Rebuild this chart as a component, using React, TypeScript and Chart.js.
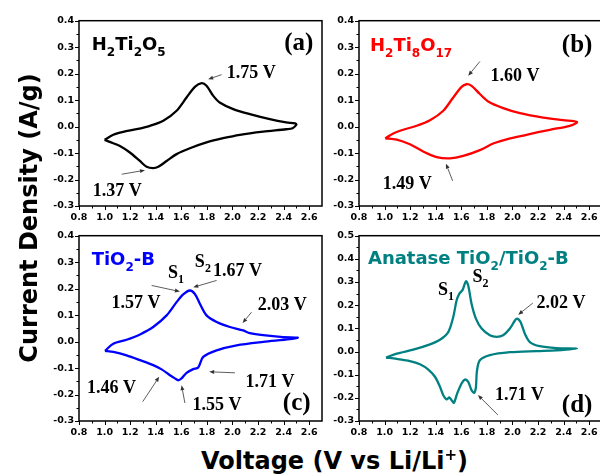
import React, { useEffect, useRef } from 'react';
import { Chart, registerables } from 'chart.js';
Chart.register(...registerables);

// ---------- data (Voltage in V, Current density in A/g) ----------
// (a) H2Ti2O5
const aVoltage = [1.0, 1.068, 1.146, 1.25, 1.355, 1.459, 1.563, 1.641, 1.706, 1.759, 1.797, 1.85, 1.9, 2.006, 2.136, 2.292, 2.42, 2.49, 2.5, 2.47, 2.42, 2.24, 2.058, 1.927, 1.797, 1.667, 1.563, 1.485, 1.42, 1.38, 1.329, 1.276, 1.198, 1.12, 1.04, 1.0];
const aCurrent = [-0.05, -0.031, -0.02, -0.01, 0.003, 0.022, 0.06, 0.11, 0.15, 0.164, 0.154, 0.116, 0.091, 0.066, 0.047, 0.028, 0.016, 0.012, 0.008, -0.006, -0.01, -0.019, -0.031, -0.044, -0.06, -0.082, -0.104, -0.13, -0.152, -0.157, -0.152, -0.13, -0.098, -0.073, -0.058, -0.05];

// (b) H2Ti8O17
const bVoltage = [1.005, 1.068, 1.146, 1.25, 1.355, 1.459, 1.537, 1.602, 1.641, 1.68, 1.745, 1.81, 1.927, 2.058, 2.24, 2.396, 2.505, 2.448, 2.292, 2.109, 1.954, 1.849, 1.745, 1.615, 1.511, 1.407, 1.302, 1.198, 1.095, 1.005];
const bCurrent = [-0.044, -0.026, -0.012, 0.003, 0.024, 0.06, 0.11, 0.15, 0.16, 0.154, 0.123, 0.095, 0.07, 0.051, 0.034, 0.024, 0.017, 0.003, -0.012, -0.031, -0.048, -0.064, -0.089, -0.111, -0.12, -0.115, -0.094, -0.067, -0.049, -0.044];

// (c) TiO2-B
const cVoltage = [1.003, 1.068, 1.172, 1.277, 1.38, 1.485, 1.563, 1.615, 1.667, 1.706, 1.745, 1.797, 1.876, 1.98, 2.084, 2.136, 2.24, 2.396, 2.51, 2.448, 2.24, 2.032, 1.876, 1.771, 1.732, 1.693, 1.641, 1.602, 1.576, 1.55, 1.511, 1.446, 1.38, 1.277, 1.172, 1.068, 1.003];
const cCurrent = [-0.035, -0.008, 0.007, 0.027, 0.055, 0.099, 0.149, 0.178, 0.193, 0.18, 0.143, 0.099, 0.074, 0.055, 0.042, 0.032, 0.024, 0.017, 0.015, 0.009, -0.001, -0.014, -0.033, -0.058, -0.098, -0.104, -0.118, -0.139, -0.146, -0.139, -0.127, -0.105, -0.089, -0.07, -0.052, -0.039, -0.035];

// (d) Anatase TiO2/TiO2-B
const dVoltage = [1.011, 1.095, 1.224, 1.355, 1.433, 1.498, 1.537, 1.563, 1.584, 1.61, 1.636, 1.654, 1.68, 1.714, 1.759, 1.823, 1.876, 1.927, 1.98, 2.019, 2.037, 2.063, 2.097, 2.136, 2.214, 2.344, 2.505, 2.344, 2.188, 1.98, 1.823, 1.745, 1.722, 1.714, 1.701, 1.68, 1.654, 1.628, 1.602, 1.568, 1.542, 1.524, 1.506, 1.485, 1.459, 1.433, 1.394, 1.342, 1.277, 1.198, 1.095, 1.011];
const dCurrent = [-0.026, -0.009, 0.008, 0.031, 0.051, 0.084, 0.149, 0.22, 0.249, 0.266, 0.303, 0.285, 0.206, 0.142, 0.099, 0.07, 0.063, 0.07, 0.099, 0.134, 0.142, 0.127, 0.077, 0.041, 0.023, 0.015, 0.013, 0.005, 0.002, -0.003, -0.016, -0.038, -0.085, -0.155, -0.178, -0.167, -0.131, -0.121, -0.138, -0.181, -0.221, -0.21, -0.198, -0.207, -0.189, -0.152, -0.109, -0.078, -0.055, -0.041, -0.032, -0.026];

// ---------- tick labels ----------
const xTicks = [0.8, 1.0, 1.2, 1.4, 1.6, 1.8, 2.0, 2.2, 2.4, 2.6];
const yTicksABC = [-0.3, -0.2, -0.1, 0.0, 0.1, 0.2, 0.3, 0.4];
const yTicksD = [-0.3, -0.2, -0.1, 0.0, 0.1, 0.2, 0.3, 0.4, 0.5];

type Label = { x: number; y: number; text: string; kind: 'formula' | 'value' | 's' | 'letter' };
type Arrow = { x1: number; y1: number; x2: number; y2: number };

const aLabels: Label[] = [
  { x: 0.9, y: 0.288, text: 'H{2}Ti{2}O{5}', kind: 'formula' },
  { x: 2.405, y: 0.288, text: '(a)', kind: 'letter' },
  { x: 1.956, y: 0.184, text: '1.75 V', kind: 'value' },
  { x: 0.907, y: -0.262, text: '1.37 V', kind: 'value' },
];
const aArrows: Arrow[] = [
  { x1: 1.915, y1: 0.196, x2: 1.81, y2: 0.179 },
  { x1: 1.134, y1: -0.18, x2: 1.316, y2: -0.165 },
];
const bLabels: Label[] = [
  { x: 0.886, y: 0.286, text: 'H{2}Ti{8}O{17}', kind: 'formula' },
  { x: 2.386, y: 0.283, text: '(b)', kind: 'letter' },
  { x: 1.829, y: 0.173, text: '1.60 V', kind: 'value' },
  { x: 0.985, y: -0.236, text: '1.49 V', kind: 'value' },
];
const bArrows: Arrow[] = [
  { x1: 1.745, y1: 0.246, x2: 1.654, y2: 0.192 },
  { x1: 1.532, y1: -0.205, x2: 1.48, y2: -0.14 },
];
const cLabels: Label[] = [
  { x: 0.899, y: 0.291, text: 'TiO{2}-B', kind: 'formula' },
  { x: 1.495, y: 0.242, text: 'S{1}', kind: 's' },
  { x: 1.706, y: 0.281, text: 'S{2}', kind: 's' },
  { x: 1.847, y: 0.249, text: '1.67 V', kind: 'value' },
  { x: 1.055, y: 0.125, text: '1.57 V', kind: 'value' },
  { x: 2.198, y: 0.118, text: '2.03 V', kind: 'value' },
  { x: 0.862, y: -0.195, text: '1.46 V', kind: 'value' },
  { x: 1.688, y: -0.259, text: '1.55 V', kind: 'value' },
  { x: 2.102, y: -0.171, text: '1.71 V', kind: 'value' },
  { x: 2.394, y: -0.259, text: '(c)', kind: 'letter' },
];
const cArrows: Arrow[] = [
  { x1: 1.368, y1: 0.212, x2: 1.589, y2: 0.189 },
  { x1: 1.876, y1: 0.231, x2: 1.693, y2: 0.205 },
  { x1: 2.149, y1: 0.111, x2: 2.079, y2: 0.07 },
  { x1: 1.298, y1: -0.227, x2: 1.427, y2: -0.133 },
  { x1: 1.628, y1: -0.232, x2: 1.602, y2: -0.165 },
  { x1: 2.019, y1: -0.118, x2: 1.818, y2: -0.114 },
];
const dLabels: Label[] = [
  { x: 0.87, y: 0.378, text: 'Anatase TiO{2}/TiO{2}-B', kind: 'formula' },
  { x: 1.417, y: 0.242, text: 'S{1}', kind: 's' },
  { x: 1.688, y: 0.299, text: 'S{2}', kind: 's' },
  { x: 2.188, y: 0.186, text: '2.02 V', kind: 'value' },
  { x: 1.863, y: -0.21, text: '1.71 V', kind: 'value' },
  { x: 2.386, y: -0.261, text: '(d)', kind: 'letter' },
];
const dArrows: Arrow[] = [
  { x1: 2.159, y1: 0.209, x2: 2.045, y2: 0.159 },
  { x1: 1.886, y1: -0.274, x2: 1.73, y2: -0.188 },
];

type Panel = {
  left: number; top: number; v: number[]; c: number[]; color: string;
  yMin: number; yMax: number; yTicks: number[]; labels: Label[]; arrows: Arrow[];
};

const panels: Panel[] = [
  { left: 30, top: 10, v: aVoltage, c: aCurrent, color: '#000000', yMin: -0.3, yMax: 0.4, yTicks: yTicksABC, labels: aLabels, arrows: aArrows },
  { left: 310, top: 10, v: bVoltage, c: bCurrent, color: '#ff0000', yMin: -0.3, yMax: 0.4, yTicks: yTicksABC, labels: bLabels, arrows: bArrows },
  { left: 30, top: 225, v: cVoltage, c: cCurrent, color: '#0000ff', yMin: -0.3, yMax: 0.4, yTicks: yTicksABC, labels: cLabels, arrows: cArrows },
  { left: 310, top: 225, v: dVoltage, c: dCurrent, color: '#008080', yMin: -0.3, yMax: 0.5, yTicks: yTicksD, labels: dLabels, arrows: dArrows },
];

const SANS = '"DejaVu Sans", Verdana, sans-serif';
const SERIF = '"Liberation Serif", "Times New Roman", serif';

function parseRich(s: string): { t: string; sub: boolean }[] {
  const out: { t: string; sub: boolean }[] = [];
  const re = /\{([^}]*)\}|([^{]+)/g;
  let m: RegExpExecArray | null;
  while ((m = re.exec(s))) {
    if (m[1] !== undefined) out.push({ t: m[1], sub: true });
    else out.push({ t: m[2], sub: false });
  }
  return out;
}

function drawRich(ctx: CanvasRenderingContext2D, s: string, x: number, y: number, family: string, size: number, subSize: number, drop: number, color: string) {
  let cx = x;
  ctx.fillStyle = color;
  ctx.textAlign = 'left';
  ctx.textBaseline = 'alphabetic';
  for (const p of parseRich(s)) {
    ctx.font = `bold ${p.sub ? subSize : size}px ${family}`;
    ctx.fillText(p.t, cx, p.sub ? y + drop : y);
    cx += ctx.measureText(p.t).width;
  }
}

function makeFramePlugin(p: Panel) {
  return {
    id: 'frame',
    afterDraw(chart: any) {
      const ctx: CanvasRenderingContext2D = chart.ctx;
      const xs = chart.scales.x;
      const ys = chart.scales.y;
      const a = chart.chartArea;
      ctx.save();
      // box
      ctx.strokeStyle = '#000';
      ctx.lineWidth = 1.5;
      ctx.strokeRect(a.left, a.top, a.right - a.left, a.bottom - a.top);
      // ticks (major + minor, outward)
      ctx.lineWidth = 1;
      ctx.beginPath();
      xTicks.forEach((t, i) => {
        const px = Math.round(xs.getPixelForValue(t)) + 0.5;
        ctx.moveTo(px, a.bottom); ctx.lineTo(px, a.bottom + 4);
        if (i < xTicks.length - 1) {
          const mx = Math.round(xs.getPixelForValue((t + xTicks[i + 1]) / 2)) + 0.5;
          ctx.moveTo(mx, a.bottom); ctx.lineTo(mx, a.bottom + 2.5);
        }
      });
      p.yTicks.forEach((t, i) => {
        const py = Math.round(ys.getPixelForValue(t)) + 0.5;
        ctx.moveTo(a.left, py); ctx.lineTo(a.left - 4, py);
        if (i < p.yTicks.length - 1) {
          const my = Math.round(ys.getPixelForValue((t + p.yTicks[i + 1]) / 2)) + 0.5;
          ctx.moveTo(a.left, my); ctx.lineTo(a.left - 2.5, my);
        }
      });
      ctx.stroke();
      // arrows
      ctx.strokeStyle = '#333';
      ctx.fillStyle = '#333';
      ctx.lineWidth = 0.8;
      for (const ar of p.arrows) {
        const x1 = xs.getPixelForValue(ar.x1), y1 = ys.getPixelForValue(ar.y1);
        const x2 = xs.getPixelForValue(ar.x2), y2 = ys.getPixelForValue(ar.y2);
        const ang = Math.atan2(y2 - y1, x2 - x1);
        const hl = 5, hw = 2;
        const bx = x2 - hl * Math.cos(ang), by = y2 - hl * Math.sin(ang);
        ctx.beginPath();
        ctx.moveTo(x1, y1); ctx.lineTo(bx, by);
        ctx.stroke();
        ctx.beginPath();
        ctx.moveTo(x2, y2);
        ctx.lineTo(bx + hw * Math.sin(ang), by - hw * Math.cos(ang));
        ctx.lineTo(bx - hw * Math.sin(ang), by + hw * Math.cos(ang));
        ctx.closePath();
        ctx.fill();
      }
      // labels
      for (const l of p.labels) {
        const px = xs.getPixelForValue(l.x), py = ys.getPixelForValue(l.y);
        if (l.kind === 'formula') drawRich(ctx, l.text, px, py, SANS, 18, 12, 6, p.color);
        else if (l.kind === 's') drawRich(ctx, l.text, px, py, SERIF, 18, 12, 5, '#000');
        else if (l.kind === 'letter') drawRich(ctx, l.text, px, py, SERIF, 25, 25, 0, '#000');
        else drawRich(ctx, l.text, px, py, SERIF, 18, 18, 0, '#000');
      }
      ctx.restore();
    },
  };
}

const tickFont = { family: SANS, weight: 'bold' as const, size: 9.5 };

function PanelChart({ p }: { p: Panel }) {
  const ref = useRef<HTMLCanvasElement>(null);
  useEffect(() => {
    const chart = new Chart(ref.current as HTMLCanvasElement, {
      type: 'scatter',
      data: {
        datasets: [
          {
            data: p.v.map((x, i) => ({ x, y: p.c[i] })),
            showLine: true,
            borderColor: p.color,
            backgroundColor: p.color,
            borderWidth: 2.3,
            pointRadius: 0,
            tension: 0.3,
            fill: false,
          },
        ],
      },
      options: {
        animation: false,
        responsive: false,
        events: [],
        layout: { padding: { top: 10, right: 8, left: 0, bottom: 0 } },
        plugins: { legend: { display: false }, tooltip: { enabled: false } },
        scales: {
          x: {
            type: 'linear',
            min: 0.8,
            max: 2.7,
            grid: { display: false, drawTicks: false },
            border: { display: false },
            afterBuildTicks: (s: any) => { s.ticks = xTicks.map((value) => ({ value })); },
            afterFit: (s: any) => { s.height = 25; },
            ticks: { font: tickFont, color: '#000', padding: 6, maxRotation: 0, autoSkip: false, callback: (v: any) => Number(v).toFixed(1) },
          },
          y: {
            type: 'linear',
            min: p.yMin,
            max: p.yMax,
            grid: { display: false, drawTicks: false },
            border: { display: false },
            afterBuildTicks: (s: any) => { s.ticks = p.yTicks.map((value) => ({ value })); },
            afterFit: (s: any) => { s.width = 49; },
            ticks: { font: tickFont, color: '#000', padding: 5, autoSkip: false, callback: (v: any) => Number(v).toFixed(1) },
          },
        },
      },
      plugins: [makeFramePlugin(p)],
    } as any);
    return () => chart.destroy();
  }, [p]);
  return <canvas ref={ref} width={300} height={221} style={{ position: 'absolute', left: p.left, top: p.top }} />;
}

export default function App() {
  return (
    <div style={{ position: 'absolute', left: 0, top: 0, width: 600, height: 475, overflow: 'hidden', background: '#fff' }}>
      {panels.map((p, i) => (
        <PanelChart key={i} p={p} />
      ))}
      <div
        style={{
          position: 'absolute', left: 27 - 200, top: 217.5 - 12, width: 400, height: 24, lineHeight: '24px',
          textAlign: 'center', font: `bold 24px ${SANS}`, color: '#000', transform: 'rotate(-90deg)', whiteSpace: 'nowrap',
        }}
      >
        Current Density (A/g)
      </div>
      <div
        style={{
          position: 'absolute', left: 201, top: 446.7, height: 24, lineHeight: '24px',
          font: `bold 24px ${SANS}`, color: '#000', whiteSpace: 'nowrap',
        }}
      >
        Voltage (V vs Li/Li<span style={{ fontSize: 15, position: 'relative', top: -9 }}>+</span>)
      </div>
    </div>
  );
}
